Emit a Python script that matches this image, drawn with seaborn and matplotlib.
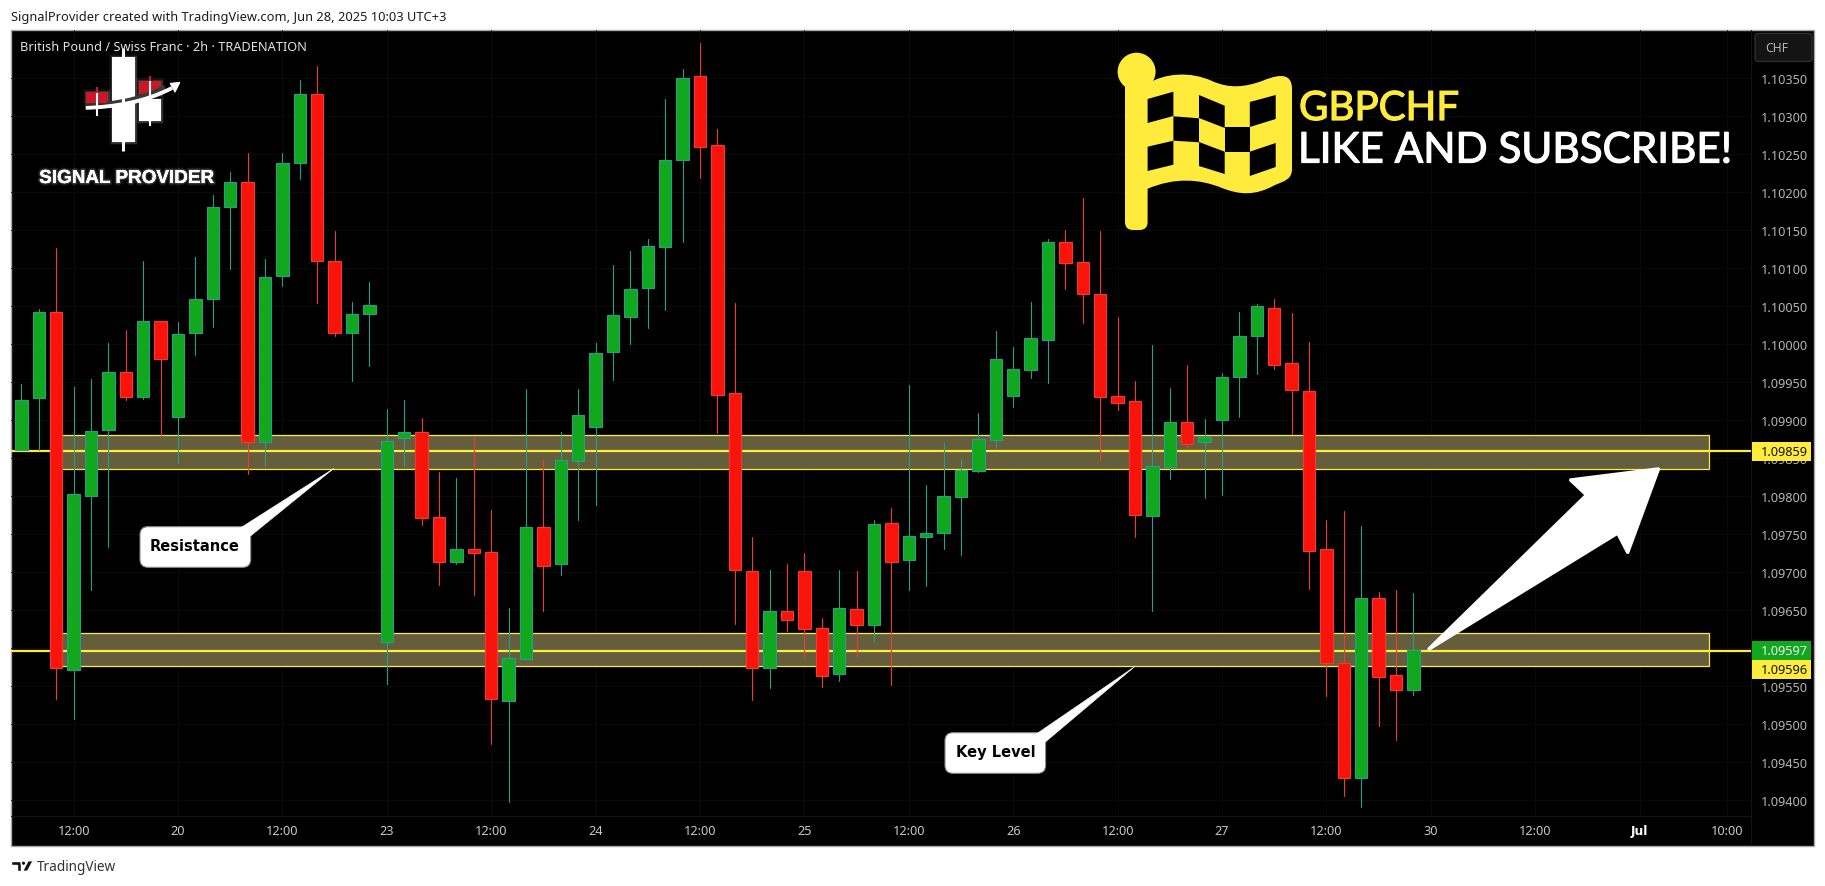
import numpy as np
import pandas as pd
import matplotlib
matplotlib.use("Agg")
import matplotlib.pyplot as plt
import matplotlib.patheffects as pe
from matplotlib.patches import Circle, FancyBboxPatch, PathPatch, Polygon, Rectangle
from matplotlib.path import Path
import seaborn as sns

# GBPCHF 2h candles
bar_open = [1.09860, 1.09929, 1.10042, 1.09571, 1.09800, 1.09887, 1.09963, 1.09930, 1.10030, 1.09904,
            1.10015, 1.10060, 1.10180, 1.10214, 1.09871, 1.10090, 1.10238, 1.10330, 1.10109, 1.10015,
            1.10040, 1.09607, 1.09876, 1.09884, 1.09772, 1.09713, 1.09730, 1.09726, 1.09530, 1.09585,
            1.09759, 1.09710, 1.09846, 1.09891, 1.09990, 1.10036, 1.10074, 1.10128, 1.10243, 1.10353,
            1.10262, 1.09935, 1.09701, 1.09574, 1.09649, 1.09701, 1.09626, 1.09565, 1.09651, 1.09630,
            1.09764, 1.09715, 1.09746, 1.09751, 1.09798, 1.09833, 1.09874, 1.09932, 1.09966, 1.10006,
            1.10134, 1.10108, 1.10066, 1.09931, 1.09925, 1.09774, 1.09838, 1.09898, 1.09871, 1.09900,
            1.09957, 1.10011, 1.10048, 1.09975, 1.09938, 1.09730, 1.09580, 1.09428, 1.09665, 1.09564,
            1.09545]
bar_high = [1.09947, 1.10046, 1.10127, 1.09943, 1.09954, 1.10001, 1.10019, 1.10109, 1.10030, 1.10029,
            1.10115, 1.10196, 1.10227, 1.10252, 1.10112, 1.10252, 1.10348, 1.10366, 1.10149, 1.10055,
            1.10082, 1.09915, 1.09926, 1.09903, 1.09832, 1.09823, 1.09879, 1.09781, 1.09652, 1.09941,
            1.09847, 1.09884, 1.09941, 1.10001, 1.10104, 1.10123, 1.10138, 1.10323, 1.10362, 1.10397,
            1.10283, 1.10054, 1.09746, 1.09702, 1.09710, 1.09725, 1.09639, 1.09702, 1.09701, 1.09768,
            1.09784, 1.09946, 1.09814, 1.09870, 1.09849, 1.09909, 1.10017, 1.09996, 1.10055, 1.10138,
            1.10150, 1.10192, 1.10149, 1.10036, 1.09951, 1.09999, 1.09942, 1.09972, 1.09901, 1.09962,
            1.10042, 1.10053, 1.10059, 1.10041, 1.10003, 1.09768, 1.09780, 1.09760, 1.09674, 1.09676,
            1.09672]
bar_low = [1.09860, 1.09861, 1.09533, 1.09506, 1.09676, 1.09733, 1.09926, 1.09928, 1.09880, 1.09844,
           1.09985, 1.10022, 1.10099, 1.09829, 1.09840, 1.10077, 1.10217, 1.10054, 1.10011, 1.09952,
           1.09971, 1.09552, 1.09839, 1.09762, 1.09683, 1.09710, 1.09669, 1.09473, 1.09397, 1.09585,
           1.09649, 1.09696, 1.09768, 1.09788, 1.09953, 1.10000, 1.10021, 1.10045, 1.10134, 1.10219,
           1.09883, 1.09631, 1.09531, 1.09547, 1.09622, 1.09588, 1.09548, 1.09556, 1.09589, 1.09607,
           1.09551, 1.09676, 1.09681, 1.09730, 1.09722, 1.09831, 1.09863, 1.09917, 1.09955, 1.09949,
           1.10073, 1.10028, 1.09847, 1.09913, 1.09746, 1.09648, 1.09822, 1.09865, 1.09797, 1.09801,
           1.09904, 1.09960, 1.09967, 1.09882, 1.09677, 1.09536, 1.09405, 1.09390, 1.09497, 1.09479,
           1.09538]
bar_close = [1.09927, 1.10042, 1.09573, 1.09802, 1.09886, 1.09963, 1.09930, 1.10030, 1.09980, 1.10013,
             1.10060, 1.10180, 1.10214, 1.09871, 1.10089, 1.10238, 1.10330, 1.10109, 1.10015, 1.10039,
             1.10052, 1.09873, 1.09884, 1.09771, 1.09713, 1.09730, 1.09725, 1.09532, 1.09586, 1.09759,
             1.09708, 1.09847, 1.09906, 1.09988, 1.10038, 1.10073, 1.10129, 1.10242, 1.10351, 1.10260,
             1.09933, 1.09702, 1.09573, 1.09649, 1.09636, 1.09625, 1.09563, 1.09652, 1.09630, 1.09763,
             1.09713, 1.09747, 1.09751, 1.09800, 1.09834, 1.09875, 1.09981, 1.09967, 1.10008, 1.10134,
             1.10107, 1.10066, 1.09930, 1.09923, 1.09775, 1.09839, 1.09898, 1.09869, 1.09877, 1.09956,
             1.10010, 1.10050, 1.09973, 1.09939, 1.09728, 1.09580, 1.09429, 1.09665, 1.09561, 1.09545,
             1.09597]

price_ticks = [1.09400, 1.09450, 1.09500, 1.09550, 1.09600, 1.09650, 1.09700, 1.09750, 1.09800, 1.09850,
               1.09900, 1.09950, 1.10000, 1.10050, 1.10100, 1.10150, 1.10200, 1.10250, 1.10300, 1.10350]
time_ticks = [3, 9, 15, 21, 27, 33, 39, 45, 51, 57, 63, 69, 75, 81, 87, 93, 98]
time_labels = ["12:00", "20", "12:00", "23", "12:00", "24", "12:00", "25", "12:00", "26",
               "12:00", "27", "12:00", "30", "12:00", "Jul", "10:00"]

resistance_zone = (1.09836, 1.09880)
key_zone = (1.09576, 1.09619)
zone_bars = (2, 97)
resistance_line = 1.09859
key_line = 1.09596

GREEN = "#11a81d"
GREEN_EDGE = "#22a08f"
RED = "#f9140b"
RED_EDGE = "#f23a30"
YELLOW = "#ffeb3b"

sns.set_theme(style="dark")
plt.rcParams["font.family"] = ["Noto Sans", "DejaVu Sans"]

W, H = 1825, 887
fig = plt.figure(figsize=(W / 100, H / 100), dpi=100, facecolor="white")

# black panel and pixel overlay
bg = fig.add_axes([0, 0, 1, 1], zorder=0)
bg.set_xlim(0, W)
bg.set_ylim(H, 0)
bg.axis("off")
bg.add_patch(Rectangle((11, 30.5), 1803, 816.5, fc="black", ec="#a8a8a8", lw=1))
bg.plot([1751, 1751], [31, 846], color="#141414", lw=0.8)
bg.plot([11, 1751], [817, 817], color="#141414", lw=0.8)

ax = fig.add_axes([11 / W, 1 - 817 / H, 1740 / W, 786.5 / H], zorder=1)
ax.patch.set_alpha(0)

top = fig.add_axes([0, 0, 1, 1], zorder=2)
top.set_xlim(0, W)
top.set_ylim(H, 0)
top.axis("off")
top.patch.set_alpha(0)

df = pd.DataFrame({"bar": np.arange(len(bar_open)), "open": bar_open, "high": bar_high,
                   "low": bar_low, "close": bar_close})
df["direction"] = np.where(df["close"] >= df["open"], "up", "down")
df["body_low"] = df[["open", "close"]].min(axis=1)
df["body"] = (df["close"] - df["open"]).abs()

# zones under the candles
for (z_low, z_high), level in ((resistance_zone, resistance_line), (key_zone, key_line)):
    ax.add_patch(Rectangle((zone_bars[0], z_low), zone_bars[1] - zone_bars[0], z_high - z_low,
                           fc="#655e3c", ec=YELLOW, lw=0.9, zorder=1))
    ax.axhline(level, color=YELLOW, lw=1.6, zorder=1.5)

wicks = df.melt(id_vars=["bar", "direction"], value_vars=["high", "low"], value_name="price")
sns.lineplot(data=wicks, x="bar", y="price", hue="direction", units="bar", estimator=None, sort=False,
             palette={"up": GREEN_EDGE, "down": RED_EDGE}, lw=0.8, legend=False, ax=ax, zorder=3)

for direction, fill, edge in (("up", GREEN, GREEN_EDGE), ("down", RED, RED_EDGE)):
    part = df[df["direction"] == direction]
    sns.barplot(data=part, x="bar", y="body", bottom=part["body_low"].values, native_scale=True,
                errorbar=None, color=fill, saturation=1, width=0.72, linewidth=0.8, edgecolor=edge,
                ax=ax, zorder=4)

ax.set_xlim(-0.598, 99.4)
ax.set_ylim(1.093785, 1.104143)
ax.set_xlabel("")
ax.set_ylabel("")
ax.set_xticks(time_ticks, time_labels)
ax.yaxis.tick_right()
ax.set_yticks(price_ticks, [f"{p:.5f}" for p in price_ticks])
ax.tick_params(axis="x", length=0, pad=6, labelsize=9.2, colors="#c8c8c8")
ax.tick_params(axis="y", length=0, pad=7, labelsize=9.2, colors="#b4b4b4")
ax.grid(True, color="#0b0b0b", lw=0.7, zorder=0)
ax.set_axisbelow(True)
for side in ax.spines.values():
    side.set_visible(False)
for label in ax.get_xticklabels():
    if label.get_text() == "Jul":
        label.set_family("DejaVu Sans")
        label.set_fontweight("bold")
        label.set_fontsize(8.8)
        label.set_color("white")

# header and footer
top.text(11, 17, "SignalProvider created with TradingView.com, Jun 28, 2025 10:03 UTC+3",
         fontsize=9.25, color="#1c1c1c", va="center")
top.text(20, 47.5, "British Pound / Swiss Franc · 2h · TRADENATION", fontsize=9.2, color="#e4e4e4", va="center")
top.add_patch(Polygon([(11, 861.7), (21, 861.7), (21, 872.3), (16.7, 872.3), (16.7, 865.7), (11, 865.7)], fc="#111111"))
top.add_patch(Circle((23.5, 864.2), 2.3, fc="#111111"))
top.add_patch(Polygon([(28, 861.7), (33.3, 861.7), (27.5, 872.3), (22.5, 872.3)], fc="#111111"))
top.text(36.5, 868, "TradingView", fontsize=9.8, color="#333333", va="center")

# currency box
top.add_patch(FancyBboxPatch((1755, 34.5), 57, 28, boxstyle="round,pad=0,rounding_size=3", fc="#141414", ec="#2e2e2e", lw=1))
top.text(1765, 48.5, "CHF", fontsize=8.8, color="#b4b4b4", va="center")

# price tags
for tag_top, tag_bottom, fill, ink, tag in ((443, 462, YELLOW, "#111111", "1.09859"),
                                            (642, 661, GREEN, "#f0f0f0", "1.09597"),
                                            (661, 679.5, YELLOW, "#111111", "1.09596")):
    top.add_patch(Rectangle((1752, tag_top), 59, tag_bottom - tag_top, fc=fill, ec="none"))
    top.text(1761, (tag_top + tag_bottom) / 2, tag, fontsize=9.2, color=ink, va="center")

# logo
GLOW = dict(path_effects=[pe.withStroke(linewidth=4, foreground="white", alpha=0.07),
                          pe.withStroke(linewidth=2, foreground="white", alpha=0.14)])
def logo_box(x0, x1, y0, y1, color):
    top.add_patch(Rectangle((x0, y0), x1 - x0, y1 - y0, fc=color, ec="none", **GLOW))
for x_mid, y0, y1, stem in ((123.3, 49, 152, 2.2), (97, 88.3, 116.7, 1.5), (150, 77.3, 126.7, 1.5)):
    top.plot([x_mid, x_mid], [y0, y1], color="white", lw=stem, solid_capstyle="butt")
for x_mid, y0, y1 in ((97, 88.3, 94), (150, 77.3, 82)):
    top.plot([x_mid, x_mid], [y0, y1], color="#c81a26", lw=1.5, solid_capstyle="butt")
logo_box(112.3, 135, 58, 142.7, "white")
logo_box(139, 161.3, 100, 121.7, "white")
logo_box(85.7, 107.7, 93.3, 104, "#c81a26")
logo_box(139, 161.3, 81.7, 95, "#c81a26")
curve = [Path.MOVETO, Path.CURVE4, Path.CURVE4, Path.CURVE4]
top.add_patch(PathPatch(Path([(107, 105), (125, 103), (145, 99), (165, 88)], curve),
                        fc="none", ec="#383838", lw=3.6, capstyle="butt"))
top.add_patch(PathPatch(Path([(85.7, 108.8), (115, 108), (145, 103), (172, 89)], curve),
                        fc="none", ec="white", lw=2.8, capstyle="butt"))
top.add_patch(Polygon([(180, 83.3), (170, 84.3), (175, 93.3)], fc="white", ec="white", lw=0.6))
top.text(126.5, 179.5, "SIGNAL PROVIDER", fontsize=13.6, fontweight="bold", color="white",
         family="Liberation Sans", ha="center", va="center",
         path_effects=[pe.withStroke(linewidth=3.5, foreground="white", alpha=0.08),
                       pe.withStroke(linewidth=1.8, foreground="white", alpha=0.16), pe.Normal()])

# flag
flag_verts = [(1147, 85), (1165, 74), (1190, 72), (1212, 82), (1230, 90), (1245, 88), (1262, 82),
              (1272, 78), (1292, 70), (1292, 90), (1292, 170), (1292, 180), (1285, 182), (1275, 186),
              (1255, 197), (1240, 196), (1222, 189), (1200, 180), (1175, 178), (1147, 190), (1147, 85)]
flag_codes = [Path.MOVETO] + [Path.CURVE4] * 6 + [Path.CURVE4] * 3 + [Path.LINETO] + [Path.CURVE4] * 9 + [Path.CLOSEPOLY]
top.add_patch(PathPatch(Path(flag_verts, flag_codes), fc=YELLOW, ec="none"))
top.add_patch(FancyBboxPatch((1125, 72), 22.6, 159, boxstyle="round,pad=0,rounding_size=8", fc=YELLOW, ec="none"))
top.add_patch(Circle((1136.6, 72.7), 19, fc=YELLOW, ec="none"))
for cell in ([(1147.6, 100), (1173.4, 92.7), (1173.4, 117), (1147.6, 124)],
             [(1173.4, 117.3), (1199, 119.3), (1199, 143.3), (1173.4, 141.7)],
             [(1147.6, 147.7), (1173.4, 141.7), (1173.4, 165.7), (1147.6, 172)],
             [(1199, 96), (1224.7, 106.7), (1224.7, 129), (1199, 119)],
             [(1199, 143), (1224.7, 152.7), (1224.7, 175), (1199, 167)],
             [(1224.7, 128.3), (1249.8, 128.3), (1249.8, 152.7), (1224.7, 152.7)],
             [(1249.8, 103), (1275.7, 96), (1275.7, 120), (1249.8, 128)],
             [(1249.8, 152.7), (1275.7, 144), (1275.7, 168), (1249.8, 177)]):
    top.add_patch(Polygon(cell, fc="black", ec="none"))

top.text(1299, 121, "GBPCHF", fontsize=29, color=YELLOW, family="Lato", va="baseline",
         path_effects=[pe.withStroke(linewidth=0.9, foreground=YELLOW)])
top.text(1298, 163.5, "LIKE AND SUBSCRIBE!", fontsize=30.4, color="white", family="Lato", va="baseline",
         path_effects=[pe.withStroke(linewidth=0.9, foreground="white")])

# callouts
for box, tail, label, mid in (((140, 527.7, 110.7, 40.6), [(334, 469.3), (241, 528.5), (250.5, 537)], "Resistance", (195, 547)),
                              ((945, 733.7, 100.6, 40.6), [(1134.6, 667.7), (1037, 734.5), (1045.4, 743)], "Key Level", (995.4, 753))):
    top.add_patch(FancyBboxPatch(box[:2], box[2], box[3], boxstyle="round,pad=0,rounding_size=8", fc="white", ec="#8a8a8a", lw=0.8))
    top.add_patch(Polygon(tail, fc="white", ec="white", lw=0.4))
    top.text(mid[0], mid[1], label, fontsize=10.5, fontweight="bold", family="DejaVu Sans", color="black", ha="center", va="center")

# big arrow
top.add_patch(Polygon([(1429, 650), (1586.6, 496), (1570.7, 481), (1658.4, 470), (1627.7, 553.3), (1617.7, 534)],
                      fc="white", ec="white", lw=2.5, joinstyle="round"))

fig.savefig("out.png", dpi=100, facecolor="white")
